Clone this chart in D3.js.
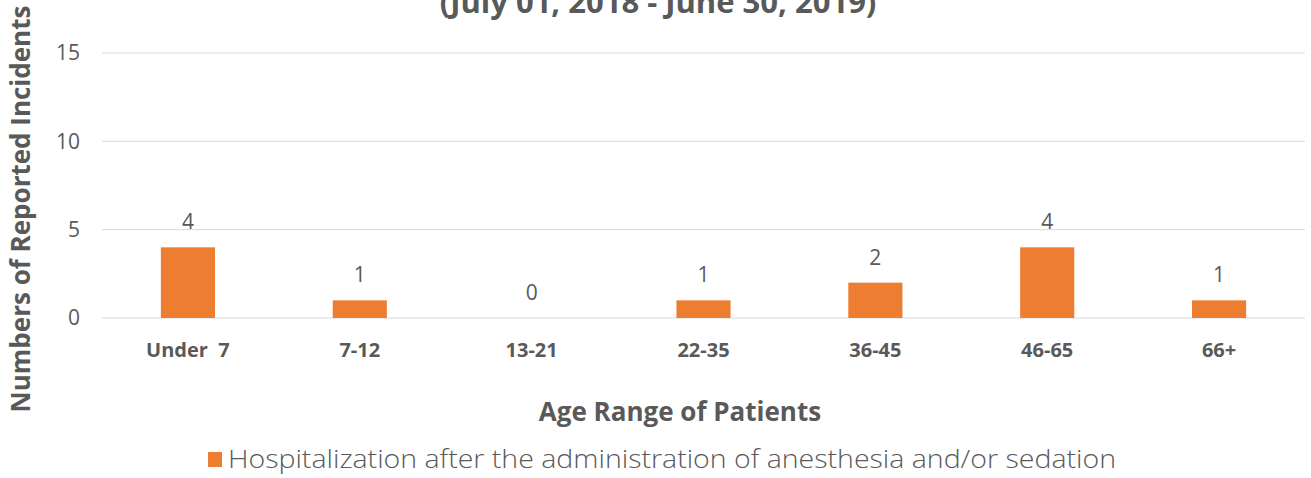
<!DOCTYPE html>
<html lang="en">
<head>
<meta charset="UTF-8">
<title>Hospitalization by Age Range</title>
<script src="https://d3js.org/d3.v7.min.js"></script>
<style>
    body { margin: 0; background: #fff; }
    text { fill: #595959; font-family: "Open Sans", sans-serif; }
</style>
</head>
<body>
<svg width="1311" height="478"></svg>
<script>
    const categories = ['Under  7', '7-12', '13-21', '22-35', '36-45', '46-65', '66+'];
    const values = [4, 1, 0, 1, 2, 4, 1];
    const yTicks = [0, 5, 10, 15];
    const seriesName = 'Hospitalization after the administration of anesthesia and/or sedation';

    const svg = d3.select('svg');
    const margin = { top: 53, right: 6, bottom: 160, left: 102 };
    const width = +svg.attr('width');
    const height = +svg.attr('height');

    const x = d3.scaleBand()
        .domain(categories)
        .range([margin.left, width - margin.right])
        .padding(0);

    const y = d3.scaleLinear()
        .domain([0, 15])
        .range([height - margin.bottom, margin.top]);

    const barW = x.bandwidth() * 0.315;

    // gridlines
    svg.append('g')
        .selectAll('line')
        .data(yTicks)
        .enter().append('line')
        .attr('x1', margin.left)
        .attr('x2', width - margin.right)
        .attr('y1', d => y(d))
        .attr('y2', d => y(d))
        .attr('stroke', '#d9d9d9')
        .attr('stroke-width', 1);

    // y tick labels
    const yAxis = svg.append('g')
        .attr('transform', `translate(${margin.left},0)`)
        .call(d3.axisLeft(y).tickValues(yTicks).tickSize(0).tickPadding(22));
    yAxis.select('.domain').remove();
    yAxis.selectAll('text')
        .style('font-size', '21px')
        .style('font-family', '"Open Sans", sans-serif')
        .attr('fill', '#595959');

    // bars
    svg.selectAll('.bar')
        .data(values)
        .enter().append('rect')
        .attr('class', 'bar')
        .attr('x', (d, i) => x(categories[i]) + (x.bandwidth() - barW) / 2)
        .attr('y', d => y(d))
        .attr('width', barW)
        .attr('height', d => y(0) - y(d))
        .attr('fill', '#ed7d31');

    // value labels
    svg.selectAll('.val')
        .data(values)
        .enter().append('text')
        .attr('class', 'val')
        .attr('x', (d, i) => x(categories[i]) + x.bandwidth() / 2)
        .attr('y', d => y(d) - 18)
        .attr('text-anchor', 'middle')
        .style('font-size', '21px')
        .text(d => d);

    // x tick labels
    const xAxis = svg.append('g')
        .attr('transform', `translate(0,${y(0)})`)
        .call(d3.axisBottom(x).tickSize(0).tickPadding(25));
    xAxis.select('.domain').remove();
    xAxis.selectAll('text')
        .style('font-size', '20px')
        .style('font-weight', 'bold')
        .style('font-family', '"Open Sans", sans-serif')
        .style('white-space', 'pre')
        .attr('fill', '#595959');

    // chart title (second line)
    svg.append('text')
        .attr('x', 658)
        .attr('y', 13)
        .attr('text-anchor', 'middle')
        .style('font-size', '31px')
        .style('font-weight', 'bold')
        .text('(July 01, 2018 - June 30, 2019)');

    // y axis title
    svg.append('text')
        .attr('transform', 'rotate(-90)')
        .attr('x', -209)
        .attr('y', 30)
        .attr('text-anchor', 'middle')
        .style('font-size', '26px')
        .style('font-weight', 'bold')
        .text('Numbers of Reported Incidents');

    // x axis title
    svg.append('text')
        .attr('x', 680)
        .attr('y', 421)
        .attr('text-anchor', 'middle')
        .style('font-size', '26px')
        .style('font-weight', 'bold')
        .text('Age Range of Patients');

    // legend
    const legend = svg.append('g');
    legend.append('rect')
        .attr('x', 208)
        .attr('y', 452)
        .attr('width', 14)
        .attr('height', 15)
        .attr('fill', '#ed7d31');
    legend.append('text')
        .attr('x', 228)
        .attr('y', 468)
        .attr('textLength', 888)
        .attr('lengthAdjust', 'spacingAndGlyphs')
        .style('font-size', '25px')
        .style('font-weight', '300')
        .text(seriesName);
</script>
</body>
</html>
